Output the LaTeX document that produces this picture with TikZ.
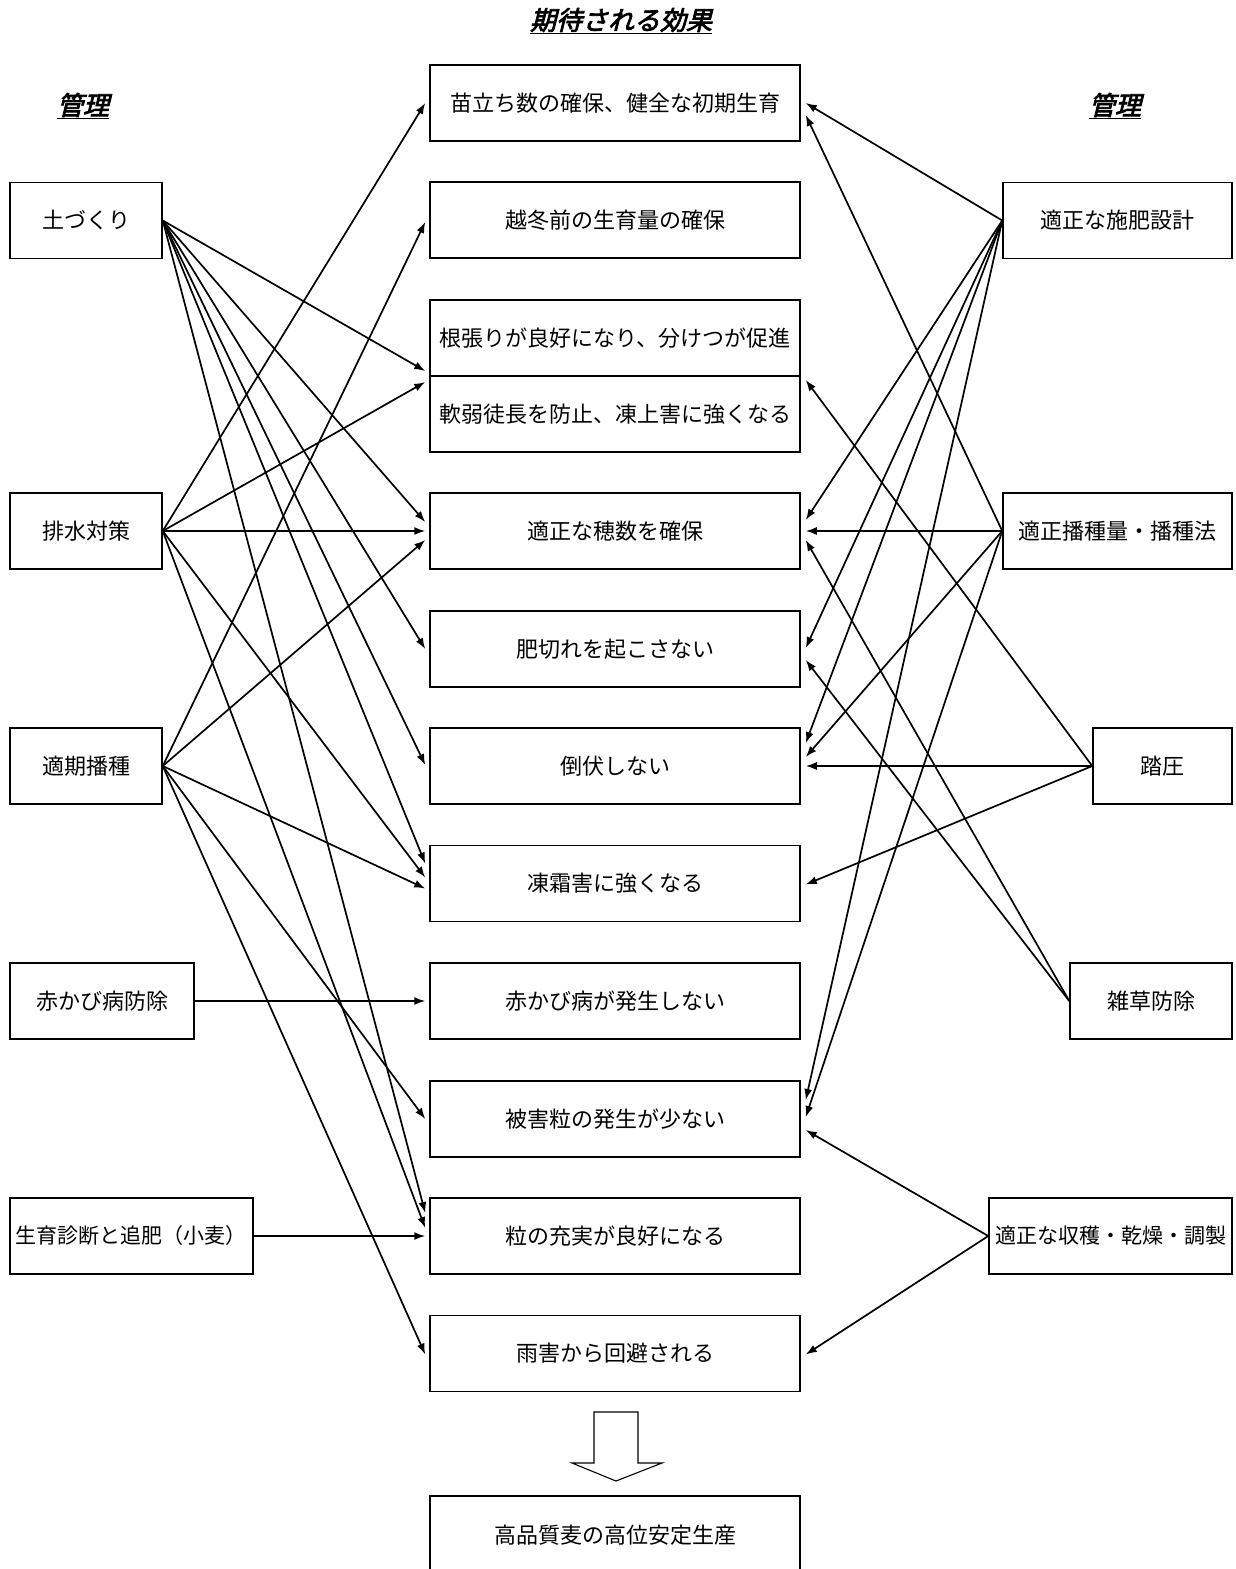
\documentclass[tikz,border=0pt]{standalone}
\usepackage{fontspec}
\setmainfont{Noto Sans CJK JP}
\newfontfamily\titlefont{Noto Sans CJK JP}[FakeSlant=0.25,FakeBold=3]
\usetikzlibrary{arrows.meta,calc}
\begin{document}
\begin{tikzpicture}[x=1pt,y=-1pt,
  box/.style={draw=black,line width=1.5pt,minimum height=76pt,inner sep=0pt,
    font=\fontsize{22}{25}\selectfont},
  small/.style={font=\fontsize{21}{24}\selectfont},
  mid/.style={box,minimum width=370pt},
  arr/.style={-{Latex[length=11pt,width=8pt]},line width=1.7pt},
  ttl/.style={font=\titlefont\fontsize{26}{29}\selectfont,inner sep=0pt}]
\useasboundingbox (0,0) rectangle (1236,1569);
% titles
\node[ttl] (title) at (621,21) {\underline{期待される効果}};
\node[ttl] (ml) at (83,106) {\underline{管理}};
\node[ttl] (mr) at (1115,106) {\underline{管理}};
% centre column
\node[mid] (c1) at (615,103) {苗立ち数の確保、健全な初期生育};
\node[mid] (c2) at (615,220) {越冬前の生育量の確保};
\node[mid] (c3a) at (615,338) {根張りが良好になり、分けつが促進};
\node[mid] (c3b) at (615,414) {軟弱徒長を防止、凍上害に強くなる};
\node[mid] (c4) at (615,531) {適正な穂数を確保};
\node[mid] (c5) at (615,649) {肥切れを起こさない};
\node[mid] (c6) at (615,766) {倒伏しない};
\node[mid] (c7) at (615,883.5) {凍霜害に強くなる};
\node[mid] (c8) at (615,1001) {赤かび病が発生しない};
\node[mid] (c9) at (615,1119) {被害粒の発生が少ない};
\node[mid] (c10) at (615,1236) {粒の充実が良好になる};
\node[mid] (c11) at (615,1353.5) {雨害から回避される};
\node[mid,minimum height=79pt] (c12) at (615,1535.5) {高品質麦の高位安定生産};
% left column
\node[box,minimum width=152pt] (L1) at (86,220.5) {土づくり};
\node[box,minimum width=152pt] (L2) at (86,531) {排水対策};
\node[box,minimum width=152pt] (L3) at (86,766) {適期播種};
\node[box,minimum width=184pt] (L4) at (102,1001) {赤かび病防除};
\node[box,small,minimum width=243pt] (L5) at (131.5,1236) {生育診断と追肥（小麦）};
% right column
\node[box,minimum width=229pt] (R1) at (1117.5,220.5) {適正な施肥設計};
\node[box,minimum width=229pt] (R2) at (1117.5,531) {適正播種量・播種法};
\node[box,minimum width=139pt] (R3) at (1162.5,766) {踏圧};
\node[box,minimum width=162pt] (R4) at (1151,1001) {雑草防除};
\node[box,small,minimum width=243pt] (R5) at (1110.5,1236) {適正な収穫・乾燥・調製};
% block arrow
\draw[line width=1.1pt] (594,1412) -- (638,1412) -- (638,1463) -- (662,1463)
  -- (616,1481) -- (572,1463) -- (594,1463) -- cycle;
% left connectors
\draw[arr] (L1.east) -- ($(c3a.west)+(-4,33)$);
\draw[arr] (L1.east) -- ($(c4.west)+(-4,-9)$);
\draw[arr] (L1.east) -- ($(c5.west)+(-4,0)$);
\draw[arr] (L1.east) -- ($(c6.west)+(-4,-1)$);
\draw[arr] (L1.east) -- ($(c7.west)+(-4,-20)$);
\draw[arr] (L1.east) -- ($(c10.west)+(-4,-23)$);
\draw[arr] (L2.east) -- ($(c1.west)+(-4,0)$);
\draw[arr] (L2.east) -- ($(c3b.west)+(-4,-32)$);
\draw[arr] (L2.east) -- ($(c4.west)+(-4,0)$);
\draw[arr] (L2.east) -- ($(c7.west)+(-4,-6)$);
\draw[arr] (L2.east) -- ($(c10.west)+(-4,-8)$);
\draw[arr] (L3.east) -- ($(c2.west)+(-4,2)$);
\draw[arr] (L3.east) -- ($(c4.west)+(-4,9)$);
\draw[arr] (L3.east) -- ($(c7.west)+(-4,5)$);
\draw[arr] (L3.east) -- ($(c9.west)+(-4,0)$);
\draw[arr] (L3.east) -- ($(c11.west)+(-4,1)$);
\draw[arr] (L4.east) -- ($(c8.west)+(-4,0)$);
\draw[arr] (L5.east) -- ($(c10.west)+(-4,0)$);
% right connectors
\draw[arr] (R1.west) -- ($(c1.east)+(5,0)$);
\draw[arr] (R1.west) -- ($(c4.east)+(5,-11)$);
\draw[arr] (R1.west) -- ($(c5.east)+(5,-1)$);
\draw[arr] (R1.west) -- ($(c6.east)+(5,-23)$);
\draw[arr] (R1.west) -- ($(c9.east)+(5,-19)$);
\draw[arr] (R2.west) -- ($(c1.east)+(5,12)$);
\draw[arr] (R2.west) -- ($(c4.east)+(5,0)$);
\draw[arr] (R2.west) -- ($(c6.east)+(5,-9)$);
\draw[arr] (R2.west) -- ($(c9.east)+(5,-2)$);
\draw[arr] (R3.west) -- ($(c3b.east)+(5,-34)$);
\draw[arr] (R3.west) -- ($(c6.east)+(5,0)$);
\draw[arr] (R3.west) -- ($(c7.east)+(5,1)$);
\draw[arr] (R4.west) -- ($(c4.east)+(5,9)$);
\draw[arr] (R4.west) -- ($(c5.east)+(5,11)$);
\draw[arr] (R5.west) -- ($(c9.east)+(5,11)$);
\draw[arr] (R5.west) -- ($(c11.east)+(5,1)$);
\end{tikzpicture}
\end{document}
